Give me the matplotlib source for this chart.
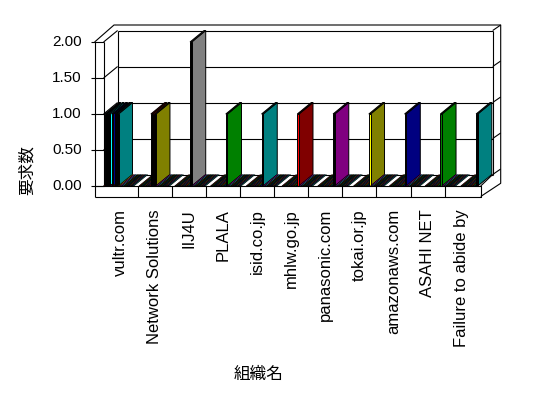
import numpy as np
import matplotlib
matplotlib.use("Agg")
import matplotlib.pyplot as plt
from matplotlib.patches import Polygon

# ---------------- data ----------------
categories = ['vultr.com', 'Network Solutions', 'IIJ4U', 'PLALA', 'isid.co.jp',
              'mhlw.go.jp', 'panasonic.com', 'tokai.or.jp', 'amazonaws.com',
              'ASAHI NET', 'Failure to abide by']
# every non-zero bar: which category it belongs to and its value
bar_category = [0, 0, 0, 0, 0, 1, 1, 2, 3, 4, 5, 6, 7, 8, 9, 10]
bar_value = [1, 1, 1, 1, 1, 1, 1, 2, 1, 1, 1, 1, 1, 1, 1, 1]
y_ticks = [0.0, 0.5, 1.0, 1.5, 2.0]
y_tick_labels = ['0.00', '0.50', '1.00', '1.50', '2.00']
y_label = '要求数'
x_label = '組織名'

# ---------------- style ----------------
bar_color = ['#000000', '#00FFFF', '#000080', '#000000', '#008080',
             '#FF0000', '#808000', '#808080', '#008000', '#008080',
             '#800000', '#800080', '#808000', '#000080', '#008000', '#008080']
bar_front = ['#000000'] * 10 + ['#FF0000', '#000000', '#FFFF00', '#000000', '#008000', '#000000']
bar_slot = [1, 3, 5, 7, 8, 7, 9, 9, 9, 9, 9, 9, 9, 9, 9, 9]
slot_palette = ['#800000', '#008000', '#000080', '#808000', '#800080', '#008080',
                '#FF0000', '#00FF00', '#0000FF', '#FFFF00', '#FF00FF', '#00FFFF']
N_SLOTS = 18

W, H = 548, 398
fig = plt.figure(figsize=(W / 100, H / 100), dpi=100)
fig.patch.set_facecolor('white')

FX0, FX1 = 103.6, 478.7       # front plane, pixels
FY0, FY1 = 186.0, 42.0        # value 0 and value 2, pixels
ax = fig.add_axes([FX0 / W, 1 - FY0 / H, (FX1 - FX0) / W, (FY0 - FY1) / H])
ax.set_xlim(0, len(categories))
ax.set_ylim(0, 2)
ax.axis('off')

XPP = len(categories) / (FX1 - FX0)   # category units per pixel
YPP = 2.0 / (FY0 - FY1)               # value units per pixel
DX, DY = 14.0, -11.5                  # depth offset in pixels (DY up = negative)
NC = len(categories)


def P(x, v, px=0.0, py=0.0):
    return (x + px * XPP, v - py * YPP)


LW = 0.8


def line(pts, z=1, lw=LW):
    xs, ys = zip(*pts)
    ax.plot(xs, ys, color='black', lw=lw, zorder=z, clip_on=False,
            solid_capstyle='butt')


def poly(pts, fc, z=3, lw=0.7, clip=None):
    p = Polygon(pts, closed=True, facecolor=fc, edgecolor='black',
                lw=lw, zorder=z, clip_on=clip is not None, joinstyle='miter')
    ax.add_patch(p)
    if clip is not None:
        p.set_clip_path(clip)
    return p


# ---------------- walls ----------------
for v in y_ticks:
    line([P(0, v, DX, DY), P(NC, v, DX, DY)])
    line([P(0, v), P(0, v, DX, DY)])
    line([P(NC, v, DX, DY), P(NC, v, 22, -17)])
    line([P(0, v, -12.5), P(0, v)])
line([P(0, 0, DX, DY), P(0, 2, DX, DY)])
line([P(NC, 0, DX, DY), P(NC, 2, DX, DY)])
line([P(0, 0), P(0, 2)])
line([P(0, 2, -9), P(0, 0, -9, 10.5)])
line([P(0, 2, -9), P(0, 2, 10.4, -17), P(NC, 2, 22, -17), P(NC, 0, 22, -2.7),
      P(NC, 0, 2, 10.5)])
line([P(0, 0, -9), P(NC, 0, 2), P(NC, 0, 2, 10.5), P(0, 0, -9, 10.5)], z=6)
for k in range(1, NC):
    line([P(k, 0), P(k, 0, 0, 10.5)], z=6)
line([P(NC, 0, 2), P(NC, 0, DX, DY)])

# floor region used to clip the flat (zero-value) bar tops
floor_clip = Polygon([P(0, 0), P(NC, 0, 1), P(NC, 0, DX + 1, DY), P(0, 0, DX, DY)],
                     closed=True, transform=ax.transData, visible=False)
ax.add_patch(floor_clip)

# ---------------- bars ----------------
SPREAD = 35.76 / (FX1 - FX0) * NC
START = -0.4 * XPP
STEP = 1.7 * XPP
E = 1.7 * XPP

bars_by_cat = {}
for i, c in enumerate(bar_category):
    bars_by_cat.setdefault(c, {})[bar_slot[i]] = i

z = 3
for k in range(NC):
    base = k * SPREAD + START
    for s in range(N_SLOTS):
        x = base + s * STEP
        z += 0.01
        if s in bars_by_cat.get(k, {}):
            i = bars_by_cat[k][s]
            v = bar_value[i]
            poly([P(x + E, 0), P(x + E, 0, DX, DY), P(x + E, v, DX, DY), P(x + E, v)],
                 bar_color[i], z=z)
            poly([P(x, v), P(x + E, v), P(x + E, v, DX, DY), P(x, v, DX, DY)],
                 bar_color[i], z=z)
            poly([P(x, 0), P(x + E, 0), P(x + E, v), P(x, v)], bar_front[i], z=z)
        else:
            poly([P(x, 0), P(x + E, 0), P(x + E, 0, DX, DY), P(x, 0, DX, DY)],
                 slot_palette[s % len(slot_palette)], z=z, lw=0.5, clip=floor_clip)

# ---------------- text ----------------
for v, lab in zip(y_ticks, y_tick_labels):
    x, y = P(0, v, -22)
    ax.text(x, y, lab, ha='right', va='center', fontsize=11,
            family='Liberation Sans', clip_on=False)

for k, lab in enumerate(categories):
    x, y = P(k + 0.5, 0, 0, 23)
    ax.text(x, y, lab, ha='center', va='top', rotation=90, fontsize=12,
            family='Liberation Sans', clip_on=False)

fig.text(27 / W, 1 - 170 / H, y_label, rotation=90, ha='center', va='center',
         fontsize=12, family=['Noto Sans CJK JP', 'DejaVu Sans'])
fig.text(259 / W, 1 - 374 / H, x_label, ha='center', va='center',
         fontsize=12, family=['Noto Sans CJK JP', 'DejaVu Sans'])

fig.savefig('out.png', dpi=100, facecolor='white')
